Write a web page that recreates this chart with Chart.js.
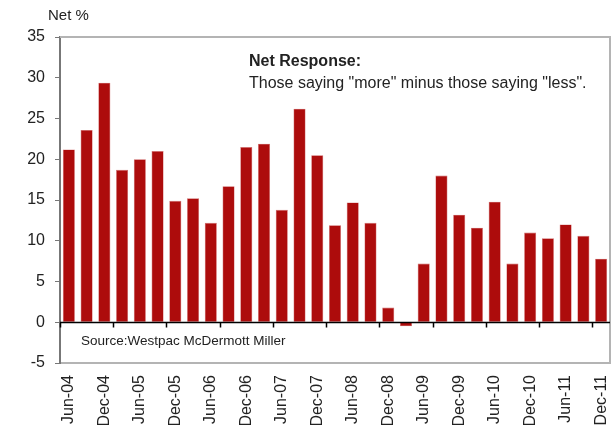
<!DOCTYPE html>
<html>
<head>
<meta charset="utf-8">
<script src="https://cdn.jsdelivr.net/npm/chart.js@4/dist/chart.umd.min.js"></script>
<style>
  html, body { margin: 0; padding: 0; background: #fff; }
  #wrap { position: relative; width: 612px; height: 425px; }
</style>
</head>
<body>
<div id="wrap"><canvas id="netCanvas" width="612" height="425"></canvas></div>
<script>
// quarterly, Jun-04 .. Dec-11
const quarters = ["Jun-04","Sep-04","Dec-04","Mar-05","Jun-05","Sep-05","Dec-05","Mar-06","Jun-06","Sep-06","Dec-06","Mar-07","Jun-07","Sep-07","Dec-07","Mar-08","Jun-08","Sep-08","Dec-08","Mar-09","Jun-09","Sep-09","Dec-09","Mar-10","Jun-10","Sep-10","Dec-10","Mar-11","Jun-11","Sep-11","Dec-11"];
const netResponse = [21.2,23.6,29.4,18.7,20.0,21.0,14.9,15.2,12.2,16.7,21.5,21.9,13.8,26.2,20.5,11.9,14.7,12.2,1.8,-0.5,7.2,18.0,13.2,11.6,14.8,7.2,11.0,10.3,12.0,10.6,7.8];
const yTicks = [-5,0,5,10,15,20,25,30,35];

const FONT = "'Liberation Sans', Arial, sans-serif";

// frame, zero line and the little ticks on it
const framePlugin = {
  id: 'frame',
  afterDatasetsDraw(chart) {
    const ctx = chart.ctx, a = chart.chartArea;
    const x = chart.scales.x, y = chart.scales.y;
    ctx.save();
    ctx.strokeStyle = '#b4b4b4';
    ctx.lineWidth = 2;
    ctx.beginPath();
    ctx.moveTo(a.left, a.top); ctx.lineTo(a.right, a.top); ctx.lineTo(a.right, a.bottom);
    ctx.stroke();
    const y0 = Math.round(y.getPixelForValue(0)) + 0.5;
    ctx.strokeStyle = '#000';
    ctx.lineWidth = 1.5;
    ctx.beginPath();
    ctx.moveTo(a.left, y0); ctx.lineTo(a.right, y0);
    for (let i = 0; i <= quarters.length; i += 3) {
      const px = Math.round(x.getPixelForValue(i - 0.5)) + 0.5;
      ctx.moveTo(px, y0); ctx.lineTo(px, y0 + 5);
    }
    ctx.stroke();
    ctx.fillStyle = '#222';
    ctx.font = '13.5px ' + FONT;
    ctx.textBaseline = 'middle';
    ctx.fillText('Source:Westpac McDermott Miller', a.left + 21, 341);
    ctx.font = '15px ' + FONT;
    ctx.fillText('Net %', 48, 16);
    ctx.font = 'bold 16px ' + FONT;
    ctx.fillText('Net Response:', 249, 62);
    ctx.font = '16px ' + FONT;
    ctx.fillText('Those saying "more" minus those saying "less".', 249, 84);
    ctx.restore();
  }
};

new Chart(document.getElementById('netCanvas'), {
  type: 'bar',
  data: {
    labels: quarters,
    datasets: [{
      data: netResponse,
      backgroundColor: '#ad0c0c',
      borderColor: '#d06a6a',
      borderWidth: 0.6,
      barPercentage: 0.68,
      categoryPercentage: 1.0
    }]
  },
  options: {
    responsive: false,
    animation: false,
    layout: { padding: { top: 37, right: 2, left: 0, bottom: 0 } },
    plugins: { legend: { display: false }, tooltip: { enabled: false } },
    scales: {
      x: {
        afterFit(s) { s.height = 62; s.paddingLeft = 0; s.paddingRight = 0; },
        grid: { display: false },
        border: { color: '#b4b4b4', width: 2 },
        ticks: {
          autoSkip: false,
          minRotation: 90,
          maxRotation: 90,
          padding: 4,
          color: '#222',
          font: { family: FONT, size: 16 },
          callback: (v, i) => (i % 2 === 0 ? quarters[i] : '')
        }
      },
      y: {
        min: -5,
        max: 35,
        afterFit(s) { s.width = 60; s.paddingTop = 0; s.paddingBottom = 0; },
        afterBuildTicks(s) { s.ticks = yTicks.map(v => ({ value: v })); },
        grid: { drawOnChartArea: false, tickLength: 5, color: '#777' },
        border: { color: '#777', width: 2 },
        ticks: {
          padding: 10,
          color: '#222',
          font: { family: FONT, size: 16 }
        }
      }
    }
  },
  plugins: [framePlugin]
});
</script>
</body>
</html>
